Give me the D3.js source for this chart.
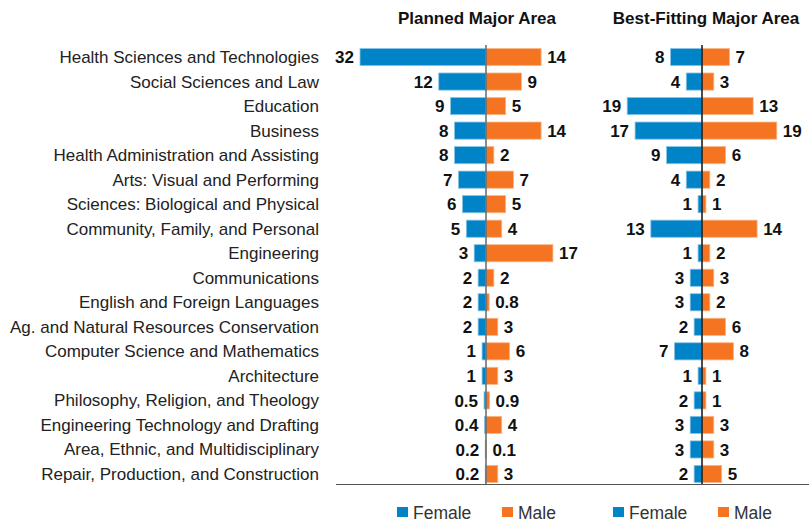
<!DOCTYPE html>
<html>
<head>
<meta charset="utf-8">
<script src="https://cdn.jsdelivr.net/npm/d3@7"></script>
<style>
  body { margin: 0; background: #fff; }
  svg { display: block; font-family: "Liberation Sans", Arial, sans-serif; }
</style>
</head>
<body>
<div id="chart"></div>
<script>
(function(d3) {
'use strict';

var categories = [
  'Health Sciences and Technologies', 'Social Sciences and Law', 'Education', 'Business',
  'Health Administration and Assisting', 'Arts: Visual and Performing',
  'Sciences: Biological and Physical', 'Community, Family, and Personal', 'Engineering',
  'Communications', 'English and Foreign Languages', 'Ag. and Natural Resources Conservation',
  'Computer Science and Mathematics', 'Architecture', 'Philosophy, Religion, and Theology',
  'Engineering Technology and Drafting', 'Area, Ethnic, and Multidisciplinary',
  'Repair, Production, and Construction'
];
var plannedFemale = [32, 12, 9, 8, 8, 7, 6, 5, 3, 2, 2, 2, 1, 1, 0.5, 0.4, 0.2, 0.2];
var plannedMale   = [14, 9, 5, 14, 2, 7, 5, 4, 17, 2, 0.8, 3, 6, 3, 0.9, 4, 0.1, 3];
var bestFemale    = [8, 4, 19, 17, 9, 4, 1, 13, 1, 3, 3, 2, 7, 1, 2, 3, 3, 2];
var bestMale      = [7, 3, 13, 19, 6, 2, 1, 14, 2, 3, 2, 6, 8, 1, 1, 3, 3, 5];
var panelTitles = ['Planned Major Area', 'Best-Fitting Major Area'];
var seriesNames = ['Female', 'Male'];

var width = 809, height = 522;
var colors = { Female: '#0083c7', Male: '#f47421' };

var svg = d3.select('#chart').append('svg')
  .attr('width', width)
  .attr('height', height);

var y = d3.scaleBand()
  .domain(categories)
  .range([46, 485])
  .paddingInner(0.3)
  .paddingOuter(0.1);

// one unit ~ 3.94px
var x = d3.scaleLinear().domain([0, 32]).range([0, 126]);

// category labels
svg.append('g').selectAll('text')
  .data(categories)
  .enter().append('text')
  .attr('x', 319)
  .attr('y', function(d) { return y(d) + y.bandwidth() / 2; })
  .attr('dy', '0.35em')
  .attr('text-anchor', 'end')
  .attr('font-size', 17)
  .attr('fill', '#222')
  .text(function(d) { return d; });

var panels = [
  { title: panelTitles[0], cx: 486, titleX: 477, female: plannedFemale, male: plannedMale, axis: '#666' },
  { title: panelTitles[1], cx: 702, titleX: 706, female: bestFemale, male: bestMale, axis: '#111' }
];

var fmt = function(v) { return v < 1 ? d3.format('.1f')(v) : d3.format('d')(v); };

panels.forEach(function(p) {
  var g = svg.append('g');
  var rows = categories.map(function(c, i) { return { cat: c, f: p.female[i], m: p.male[i] }; });

  g.append('text')
    .attr('x', p.titleX)
    .attr('y', 24)
    .attr('text-anchor', 'middle')
    .attr('font-size', 17)
    .attr('font-weight', 'bold')
    .attr('fill', '#111')
    .text(p.title);

  g.selectAll('rect.f')
    .data(rows)
    .enter().append('rect')
    .attr('class', 'f')
    .attr('x', function(d) { return p.cx - x(d.f); })
    .attr('y', function(d) { return y(d.cat); })
    .attr('width', function(d) { return x(d.f); })
    .attr('height', y.bandwidth())
    .attr('fill', colors.Female)
    .attr('stroke', '#8cc5e6')
    .attr('stroke-width', 0.8);

  g.selectAll('rect.m')
    .data(rows)
    .enter().append('rect')
    .attr('class', 'm')
    .attr('x', p.cx)
    .attr('y', function(d) { return y(d.cat); })
    .attr('width', function(d) { return x(d.m); })
    .attr('height', y.bandwidth())
    .attr('fill', colors.Male)
    .attr('stroke', '#f9b88a')
    .attr('stroke-width', 0.8);

  g.selectAll('text.fv')
    .data(rows)
    .enter().append('text')
    .attr('class', 'fv')
    .attr('x', function(d) { return p.cx - x(d.f) - 6; })
    .attr('y', function(d) { return y(d.cat) + y.bandwidth() / 2; })
    .attr('dy', '0.36em')
    .attr('text-anchor', 'end')
    .attr('font-size', 17)
    .attr('font-weight', 'bold')
    .attr('fill', '#111')
    .text(function(d) { return fmt(d.f); });

  g.selectAll('text.mv')
    .data(rows)
    .enter().append('text')
    .attr('class', 'mv')
    .attr('x', function(d) { return p.cx + x(d.m) + 6; })
    .attr('y', function(d) { return y(d.cat) + y.bandwidth() / 2; })
    .attr('dy', '0.36em')
    .attr('font-size', 17)
    .attr('font-weight', 'bold')
    .attr('fill', '#111')
    .text(function(d) { return fmt(d.m); });

  g.append('line')
    .attr('x1', p.cx).attr('x2', p.cx)
    .attr('y1', 45).attr('y2', 484)
    .attr('stroke', p.axis)
    .attr('stroke-width', 1.5);
});

// baseline
svg.append('line')
  .attr('x1', 336).attr('x2', width)
  .attr('y1', 484.5).attr('y2', 484.5)
  .attr('stroke', '#555')
  .attr('stroke-width', 1.2);

// legends
var legendX = [397, 613];
legendX.forEach(function(lx) {
  var lg = svg.append('g').attr('transform', 'translate(' + lx + ',507)');
  seriesNames.forEach(function(s, i) {
    var off = i * 105;
    lg.append('rect')
      .attr('x', off).attr('y', 0)
      .attr('width', 11).attr('height', 10)
      .attr('fill', colors[s]);
    lg.append('text')
      .attr('x', off + 16).attr('y', 12)
      .attr('font-size', 17.5)
      .attr('fill', '#333')
      .text(s);
  });
});

})(window.d3);
</script>
</body>
</html>
